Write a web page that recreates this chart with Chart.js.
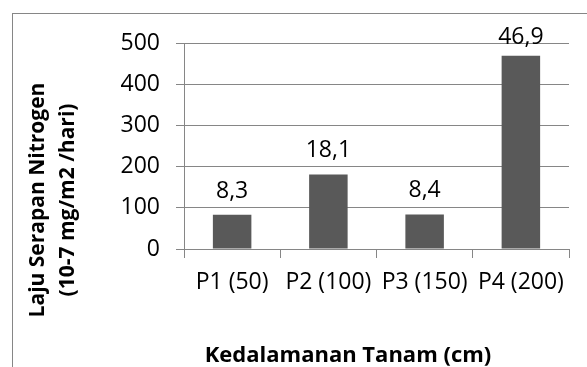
<!DOCTYPE html>
<html>
<head>
<meta charset="utf-8">
<script src="https://cdn.jsdelivr.net/npm/chart.js@4"></script>
<style>
  body { margin: 0; background: #fff; }
  #wrap { width: 587px; height: 367px; position: relative; }
</style>
</head>
<body>
<div id="wrap"><canvas id="chart"></canvas></div>
<script>
const categories = ['P1 (50)', 'P2 (100)', 'P3 (150)', 'P4 (200)'];
const values = [83, 181, 84, 469];
const valueLabels = ['8,3', '18,1', '8,4', '46,9'];
const yTitle = ['Laju Serapan Nitrogen', '(10-7 mg/m2 /hari)'];
const xTitle = 'Kedalamanan Tanam (cm)';

const GRID = '#868686';
const FONT = "'Open Sans', sans-serif";

// outer frame + titles + value labels
const decor = {
  id: 'decor',
  beforeDraw(chart) {
    const c = chart.ctx;
    c.save();
    c.strokeStyle = GRID;
    c.lineWidth = 1;
    c.strokeRect(12.5, 13.5, 700, 500);
    c.restore();
  },
  afterDraw(chart) {
    const c = chart.ctx;
    c.save();
    c.fillStyle = '#000';
    c.textAlign = 'center';
    c.textBaseline = 'alphabetic';

    c.font = 'bold 21px ' + FONT;
    [44, 74].forEach((x, i) => {
      c.save();
      c.translate(x, 200);
      c.rotate(-Math.PI / 2);
      c.fillText(yTitle[i], 0, 0);
      c.restore();
    });

    c.font = 'bold 22px ' + FONT;
    c.fillText(xTitle, 348, 362);

    c.font = '23px ' + FONT;
    const meta = chart.getDatasetMeta(0);
    meta.data.forEach((bar, i) => {
      const y = Math.max(bar.y - 17, 44);
      c.fillText(valueLabels[i], bar.x, y);
    });
    c.restore();
  }
};

const ctx = document.getElementById('chart').getContext('2d');
new Chart(ctx, {
  type: 'bar',
  data: {
    labels: categories,
    datasets: [{
      data: values,
      backgroundColor: '#595959',
      borderWidth: 0,
      barPercentage: 0.4,
      categoryPercentage: 1
    }]
  },
  options: {
    responsive: true,
    maintainAspectRatio: false,
    animation: false,
    layout: { padding: { top: 43, right: 18, bottom: 0, left: 0 } },
    plugins: { legend: { display: false }, tooltip: { enabled: false } },
    scales: {
      x: {
        afterFit(scale) { scale.height = 118; },
        grid: { drawOnChartArea: false, color: GRID, tickLength: 9, offset: true },
        border: { color: GRID },
        ticks: { color: '#000', font: { family: FONT, size: 23 }, padding: 11, maxRotation: 0 }
      },
      y: {
        min: 0,
        max: 500,
        afterFit(scale) { scale.width = 184; },
        grid: { color: GRID, tickLength: 8 },
        border: { color: GRID },
        ticks: { stepSize: 100, color: '#000', font: { family: FONT, size: 23 }, padding: 16 }
      }
    }
  },
  plugins: [decor]
});
</script>
</body>
</html>
